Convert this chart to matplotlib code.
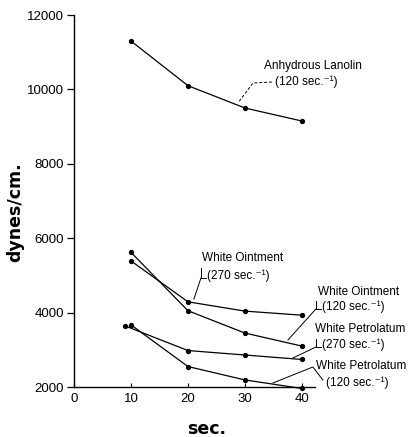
import matplotlib
matplotlib.use("Agg")
import matplotlib.pyplot as plt

plt.rcParams['font.family'] = ['Liberation Sans Narrow', 'Liberation Sans', 'DejaVu Sans']

# shear time (sec.) and yield value (dynes/cm.)
lanolin_x = [10, 20, 30, 40]
lanolin_y = [11300, 10100, 9500, 9150]

oint120_x = [10, 20, 30, 40]
oint120_y = [5620, 4050, 3450, 3100]

oint270_x = [10, 20, 30, 40]
oint270_y = [5390, 4290, 4040, 3930]

petro120_x = [10, 20, 30, 40]
petro120_y = [3670, 2550, 2190, 1960]

petro270_x = [9, 20, 30, 40]
petro270_y = [3640, 2980, 2860, 2740]

xticks = [0, 10, 20, 30, 40]
yticks = [2000, 4000, 6000, 8000, 10000, 12000]

W, H = 408, 437
fig = plt.figure(figsize=(W / 100, H / 100), dpi=100)
ax = fig.add_axes([74 / W, 1 - 387 / H, (315 - 74) / W, (387 - 15) / H])
ax.set_xlim(0, 42.3)
ax.set_ylim(2000, 12000)


def px(x, y):
    # pixel position in the picture -> data coords
    return (x - 74) / 5.7, 2000 + (387 - y) * 26.88


def leader(*pts):
    p = [px(*q) for q in pts]
    return [q[0] for q in p], [q[1] for q in p]


for xs, ys in [(lanolin_x, lanolin_y), (oint120_x, oint120_y), (oint270_x, oint270_y),
               (petro120_x, petro120_y), (petro270_x, petro270_y)]:
    ax.plot(xs, ys, color='black', lw=0.9, marker='o', ms=2.8, clip_on=False)

ax.spines['top'].set_visible(False)
ax.spines['right'].set_visible(False)
ax.spines['left'].set_linewidth(1.0)
ax.spines['bottom'].set_linewidth(1.0)
ax.set_xticks(xticks)
ax.set_yticks(yticks)
ax.tick_params(axis='y', direction='out', length=5, width=0.9, labelsize=9.5, pad=2)
ax.tick_params(axis='x', direction='in', length=3, width=0.8, labelsize=9.5, pad=4)

ax.set_ylabel('dynes/cm.', family='DejaVu Sans', fontsize=12.5, fontweight='bold')
ax.yaxis.set_label_coords((24 - 74) / 241, 0.47)
ax.set_xlabel('sec.', family='DejaVu Sans', fontsize=12.5, fontweight='bold')
ax.xaxis.set_label_coords((207 - 74) / 241, -0.088)

fs = 8.5
txt = dict(fontsize=fs, ha='left', va='center', clip_on=False)
ln = dict(color='black', lw=0.7, clip_on=False)

# Anhydrous Lanolin
ax.text(*px(264, 66), 'Anhydrous Lanolin', **txt)
ax.text(*px(275, 82), '(120 sec.\u207b\u00b9)', **txt)
ax.plot(*leader((272, 82), (253, 83), (238, 103)), ls=(0, (3, 2)), **ln)

# White Ointment 270
ax.text(*px(202, 258), 'White Ointment', **txt)
ax.text(*px(207, 276), '(270 sec.\u207b\u00b9)', **txt)
ax.plot(*leader((201, 268), (201, 278), (206, 278)), **ln)
ax.plot(*leader((201, 278), (194, 299)), **ln)

# White Ointment 120
ax.text(*px(318, 292), 'White Ointment', **txt)
ax.text(*px(322, 307), '(120 sec.\u207b\u00b9)', **txt)
ax.plot(*leader((316, 301), (316, 309), (321, 309)), **ln)
ax.plot(*leader((316, 309), (288, 340)), **ln)

# White Petrolatum 270
ax.text(*px(315, 329), 'White Petrolatum', **txt)
ax.text(*px(322, 345), '(270 sec.\u207b\u00b9)', **txt)
ax.plot(*leader((316, 339), (316, 347), (321, 347)), **ln)
ax.plot(*leader((316, 347), (293, 358)), **ln)

# White Petrolatum 120
ax.text(*px(316, 366), 'White Petrolatum', **txt)
ax.text(*px(326, 383), '(120 sec.\u207b\u00b9)', **txt)
ax.plot(*leader((273, 383), (313, 367), (323, 380)), **ln)

fig.savefig('out.png', dpi=100)
